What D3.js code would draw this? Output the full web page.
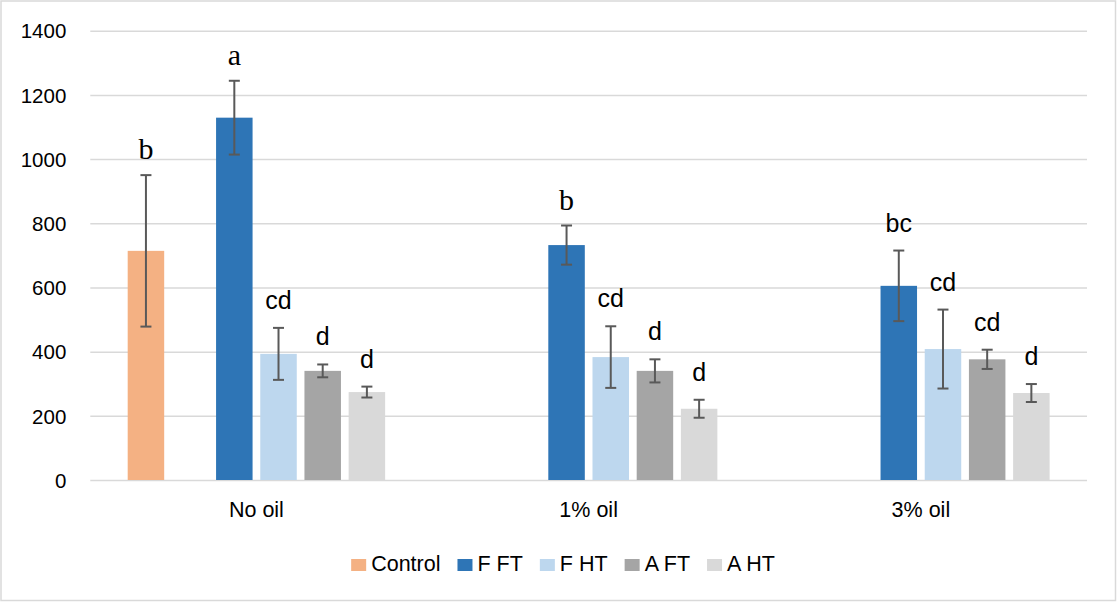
<!DOCTYPE html>
<html>
<head>
<meta charset="utf-8">
<script src="https://cdn.jsdelivr.net/npm/d3@7"></script>
<style>
  html, body { margin: 0; padding: 0; background: #fff; }
  svg { display: block; }
</style>
</head>
<body>
<svg id="chart" width="1117" height="602"></svg>
<script>
// ---- data ----
const categories = ["No oil", "1% oil", "3% oil"];
const seriesNames = ["Control", "F FT", "F HT", "A FT", "A HT"];
const seriesColors = ["#F4B183", "#2E75B6", "#BDD7EE", "#A5A5A5", "#D9D9D9"];
// slot order inside a category (Control is followed by an empty slot)
const slotOrder = ["Control", "(blank)", "F FT", "F HT", "A FT", "A HT"];

const controlValues = [714, null, null];
const fftValues = [1129, 732, 605];
const fhtValues = [393, 383, 408];
const aftValues = [340, 340, 376];
const ahtValues = [274, 222, 271];

const controlErr = [236, null, null];
const fftErr = [115, 61, 110];
const fhtErr = [81, 96, 123];
const aftErr = [20, 36, 30];
const ahtErr = [17, 28, 28];

const controlLetters = ["b", null, null];
const fftLetters = ["a", "b", "bc"];
const fhtLetters = ["cd", "cd", "cd"];
const aftLetters = ["d", "d", "cd"];
const ahtLetters = ["d", "d", "d"];
const serifLetters = [["b", null, null], ["a", "b", null]]; // letters typed in a serif face (Control, F FT)

const yTicks = [0, 200, 400, 600, 800, 1000, 1200, 1400];

// ---- build table ----
const valuesBySeries = [controlValues, fftValues, fhtValues, aftValues, ahtValues];
const errBySeries = [controlErr, fftErr, fhtErr, aftErr, ahtErr];
const lettersBySeries = [controlLetters, fftLetters, fhtLetters, aftLetters, ahtLetters];

const records = [];
seriesNames.forEach((s, si) => {
  categories.forEach((c, ci) => {
    const v = valuesBySeries[si][ci];
    if (v == null) return;
    const serif = (si < 2) && serifLetters[si][ci] != null;
    records.push({ series: s, si, cat: c, value: v, err: errBySeries[si][ci],
                   letter: lettersBySeries[si][ci], serif });
  });
});

// ---- layout ----
const svg = d3.select("#chart");
const W = 1117, H = 602;
const plotLeft = 90.3, plotRight = 1087, plotTop = 30.7, plotBottom = 480;

svg.append("rect").attr("x", 1).attr("y", 1).attr("width", W - 2.5).attr("height", H - 2.5)
  .attr("fill", "#fff").attr("stroke", "#d9d9d9").attr("stroke-width", 1.5);

const y = d3.scaleLinear().domain([0, 1400]).range([plotBottom, plotTop]);
const x0 = d3.scaleBand().domain(categories).range([plotLeft, plotRight]).padding(0);
const x1 = d3.scaleBand().domain(slotOrder).range([0, x0.bandwidth()])
  .paddingInner(0.174).paddingOuter(0.846);

// gridlines + y labels
const yAxis = d3.axisLeft(y).tickValues(yTicks).tickSize(-(plotRight - plotLeft)).tickPadding(24)
  .tickFormat(d3.format("d"));
const gy = svg.append("g").attr("transform", `translate(${plotLeft},0)`).call(yAxis);
gy.select(".domain").remove();
gy.selectAll(".tick line").attr("stroke", "#d9d9d9").attr("stroke-width", 1.5);
gy.selectAll(".tick text").attr("font-family", "'Liberation Sans', Arial, sans-serif")
  .attr("font-size", 20.5).attr("fill", "#000").attr("dy", "0.35em");

// bars
const color = d3.scaleOrdinal().domain(seriesNames).range(seriesColors);
svg.append("g").selectAll("rect").data(records).join("rect")
  .attr("x", d => x0(d.cat) + x1(d.series))
  .attr("y", d => y(d.value))
  .attr("width", x1.bandwidth())
  .attr("height", d => y(0) - y(d.value))
  .attr("fill", d => color(d.series));

// error bars
const eb = svg.append("g").attr("stroke", "#595959").attr("stroke-width", 2);
records.forEach(d => {
  const cx = x0(d.cat) + x1(d.series) + x1.bandwidth() / 2;
  const yl = y(d.value - d.err), yh = y(d.value + d.err);
  eb.append("line").attr("x1", cx).attr("x2", cx).attr("y1", yl).attr("y2", yh);
  eb.append("line").attr("x1", cx - 5.5).attr("x2", cx + 5.5).attr("y1", yl).attr("y2", yl);
  eb.append("line").attr("x1", cx - 5.5).attr("x2", cx + 5.5).attr("y1", yh).attr("y2", yh);
});

// significance letters
svg.append("g").selectAll("text").data(records).join("text")
  .attr("x", d => x0(d.cat) + x1(d.series) + x1.bandwidth() / 2)
  .attr("y", d => y(d.value + d.err) - (d.serif ? 16 : 19))
  .attr("text-anchor", "middle")
  .attr("font-family", d => d.serif ? "'Liberation Serif', 'Times New Roman', serif" : "'Liberation Sans', Arial, sans-serif")
  .attr("font-size", d => d.serif ? 30 : 25)
  .attr("fill", "#000")
  .text(d => d.letter);

// category labels
svg.append("g").selectAll("text").data(categories).join("text")
  .attr("x", d => x0(d) + x0.bandwidth() / 2)
  .attr("y", 517)
  .attr("text-anchor", "middle")
  .attr("font-family", "'Liberation Sans', Arial, sans-serif")
  .attr("font-size", 21.5).attr("fill", "#000")
  .text(d => d);

// legend
const lg = svg.append("g");
let cursor = 0;
const itemGap = 17;
seriesNames.forEach((s, i) => {
  const g = lg.append("g");
  g.append("rect").attr("x", 0).attr("y", -12).attr("width", 15).attr("height", 12).attr("fill", seriesColors[i]);
  const t = g.append("text").attr("x", 20).attr("y", 0)
    .attr("font-family", "'Liberation Sans', Arial, sans-serif")
    .attr("font-size", 21.5).attr("fill", "#000").text(s);
  const w = 20 + t.node().getComputedTextLength();
  g.attr("transform", `translate(${cursor},0)`);
  cursor += w + itemGap;
});
const total = cursor - itemGap;
lg.attr("transform", `translate(${563 - total / 2},571)`);
</script>
</body>
</html>
